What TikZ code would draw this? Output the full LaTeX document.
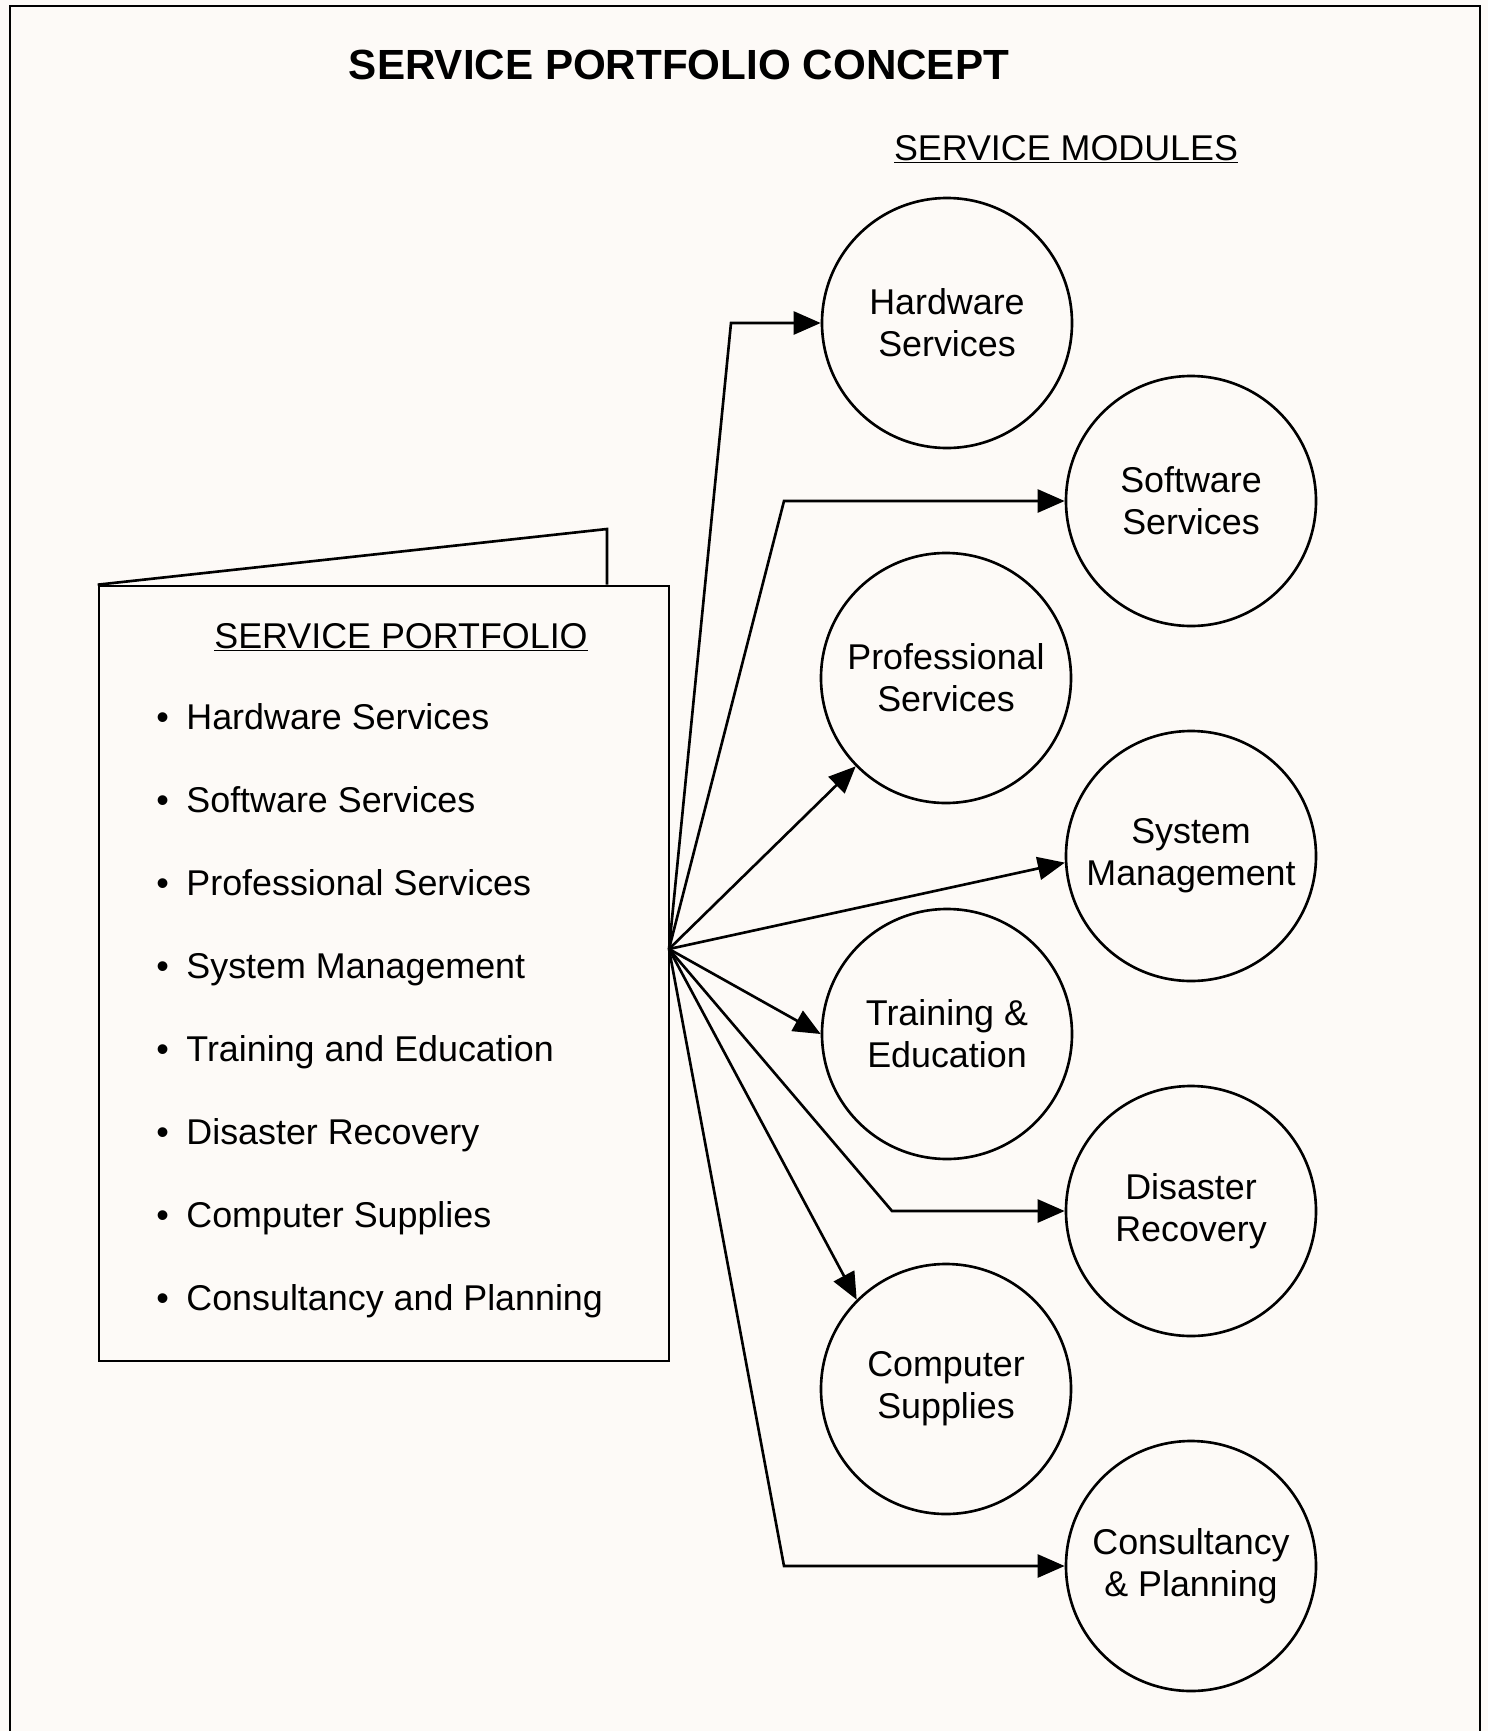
\documentclass[tikz,border=0pt]{standalone}
\usepackage{fontspec}
\setmainfont{Liberation Sans}
\usetikzlibrary{arrows.meta}
\newcommand{\modfont}{\fontsize{20.4}{23.8}\selectfont}
\definecolor{paper}{RGB}{253,250,247}

\begin{document}
\begin{tikzpicture}[
  x=0.2mm, y=-0.2mm, line width=1.5pt,
  module/.style={circle,draw,minimum size=50mm,inner sep=0pt,align=center,font=\modfont},
  entry/.style={anchor=base west,inner sep=0pt,font=\modfont},
  head/.style={anchor=base,inner sep=0pt,font=\modfont},
  feed/.style={-{Triangle[length=5.4mm,width=4.6mm]}}
]
  \fill[paper] (0,0) rectangle (1488,1731);
  \useasboundingbox (0,0) rectangle (1488,1731);
  \draw[line width=0.8pt] (10,1731) -- (10,6) -- (1480,6) -- (1480,1731);

  \node[anchor=base,inner sep=0pt,font=\fontsize{24}{28}\selectfont\bfseries] (title) at (679,79) {SERVICE PORTFOLIO CONCEPT};
  \node[head] (modhead) at (1066,160) {\underline{SERVICE MODULES}};

  % portfolio folder
  \node[draw,minimum width=114mm,minimum height=155mm,inner sep=0pt] (folder) at (384,973.5) {};
  \draw (folder.north west) -- (607,529) -- (607,0 |- folder.north);
  \node[head] (porthead) at (401,648) {\underline{SERVICE PORTFOLIO}};
  \node[entry] (e1) at (155,729) {\textbullet\hspace{10pt}Hardware Services};
  \node[entry] (e2) at (155,812) {\textbullet\hspace{10pt}Software Services};
  \node[entry] (e3) at (155,895) {\textbullet\hspace{10pt}Professional Services};
  \node[entry] (e4) at (155,978) {\textbullet\hspace{10pt}System Management};
  \node[entry] (e5) at (155,1061) {\textbullet\hspace{10pt}Training and Education};
  \node[entry] (e6) at (155,1144) {\textbullet\hspace{10pt}Disaster Recovery};
  \node[entry] (e7) at (155,1227) {\textbullet\hspace{10pt}Computer Supplies};
  \node[entry] (e8) at (155,1310) {\textbullet\hspace{10pt}Consultancy and Planning};
  \coordinate (hub) at (669,949);

  % service modules
  \node[module] (hw) at (947,323) {Hardware\\Services};
  \node[module] (sw) at (1191,501) {Software\\Services};
  \node[module] (prof) at (946,678) {Professional\\Services};
  \node[module] (sys) at (1191,856) {System\\Management};
  \node[module] (train) at (947,1034) {Training \&\\Education};
  \node[module] (dis) at (1191,1211) {Disaster\\Recovery};
  \node[module] (comp) at (946,1389) {Computer\\Supplies};
  \node[module] (cons) at (1191,1566) {Consultancy\\\& Planning};

  \draw[feed] (hub) -- (731,0 |- hw.west) -- (hw.west);
  \draw[feed] (hub) -- (784,0 |- sw.west) -- (sw.west);
  \draw[feed] (hub) -- (prof);
  \draw[feed] (hub) -- (sys.183);
  \draw[feed] (hub) -- (train.west);
  \draw[feed] (hub) -- (892,0 |- dis.west) -- (dis.west);
  \draw[feed] (hub) -- (comp.135);
  \draw[feed] (hub) -- (784,0 |- cons.west) -- (cons.west);
\end{tikzpicture}
\end{document}
